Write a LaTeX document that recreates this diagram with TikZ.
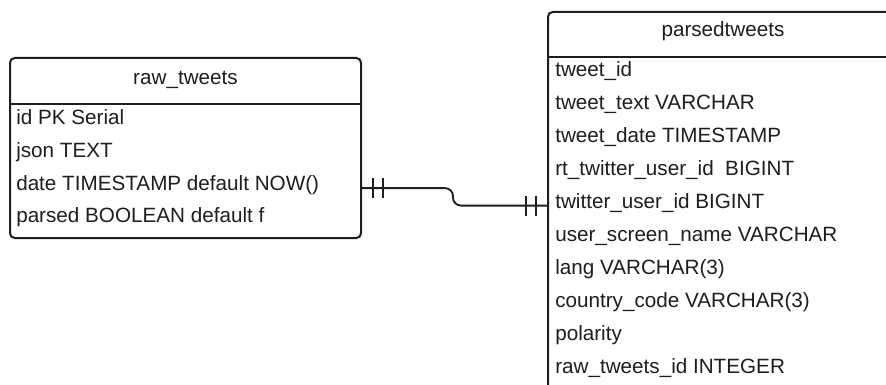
\documentclass[tikz,border=0pt]{standalone}
\usepackage{fontspec}
\setmainfont{Liberation Sans}
\usetikzlibrary{calc}
\definecolor{ink}{RGB}{30,30,30}
\newcommand{\erfont}{\fontsize{15.5}{18}\selectfont}
\tikzset{
  tablebox/.style={draw=ink,line width=1.5pt,rounded corners=3.5pt,inner sep=0pt,outer sep=0pt},
  headline/.style={draw=ink,line width=1.5pt},
  tabtitle/.style={font=\erfont,text=ink,anchor=base,inner sep=0pt},
  field/.style={font=\erfont,text=ink,anchor=base west,inner sep=0pt},
  rel/.style={draw=ink,line width=1.4pt,rounded corners=6pt},
  onebar/.style={draw=ink,line width=1.4pt}
}
\begin{document}
\begin{tikzpicture}[x=0.75pt,y=-0.75pt]
  \clip (0,0) rectangle (886,385);
  \fill[white] (0,0) rectangle (886,385);

  % raw_tweets table
  \node[tablebox,minimum width=263.25pt,minimum height=135pt] (raw) at (185.5,148) {};
  \node[tabtitle] (rawtitle) at (185.5,85) {raw\_tweets};
  \coordinate (rawsplit) at (0,104);
  \draw[headline] (raw.west |- rawsplit) -- (raw.east |- rawsplit);
  \foreach \txt [count=\i] in {id PK Serial, json TEXT, date TIMESTAMP default NOW(), parsed BOOLEAN default f}
    \node[field] (raw\i) at (16,{124.5+32.8*(\i-1)}) {\txt};

  % parsedtweets table (runs past the frame)
  \node[tablebox,minimum width=262.5pt,minimum height=291pt] (ptw) at (723,206) {};
  \node[tabtitle] (ptwtitle) at (723,37) {parsedtweets};
  \coordinate (ptwsplit) at (0,57);
  \draw[headline] (ptw.west |- ptwsplit) -- (ptw.east |- ptwsplit);
  \foreach \txt [count=\i] in {tweet\_id, tweet\_text VARCHAR, tweet\_date TIMESTAMP, rt\_twitter\_user\_id\ \ BIGINT, twitter\_user\_id BIGINT, user\_screen\_name VARCHAR, lang VARCHAR(3), country\_code VARCHAR(3), polarity, raw\_tweets\_id INTEGER}
    \node[field] (ptw\i) at (555,{77+32.9*(\i-1)}) {\txt};

  % one-to-one relation
  \coordinate (rawport) at ($(raw.east |- raw3.base)+(0,-2)$);
  \coordinate (ptwport) at ($(ptw.west |- ptw5.base)+(0,-3)$);
  \draw[rel] (rawport) -- (rawport -| 453,0) -- (ptwport -| 453,0) -- (ptwport);
  \foreach \dx in {12,22} {
    \draw[onebar] ($(rawport)+(\dx,-10)$) -- ++(0,20);
    \draw[onebar] ($(ptwport)+(-\dx,-10)$) -- ++(0,20);
  }
\end{tikzpicture}
\end{document}
